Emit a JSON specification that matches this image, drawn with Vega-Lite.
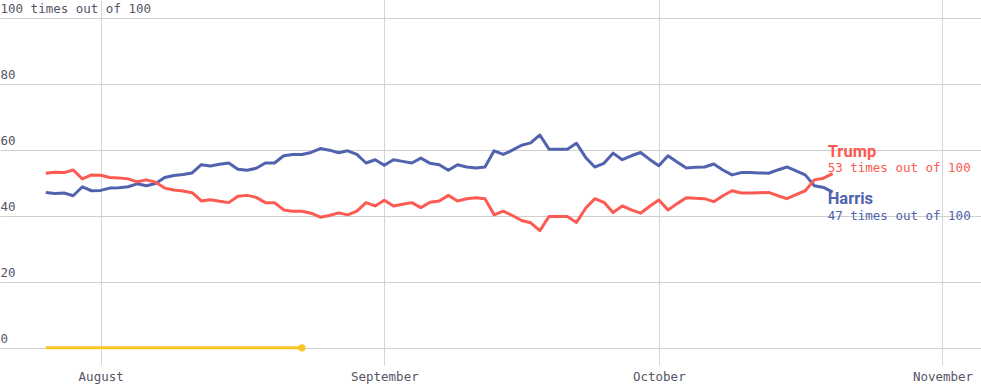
{
  "$schema": "https://vega.github.io/schema/vega-lite/v6.json",
  "width": 981,
  "height": 365,
  "padding": {"left": 0, "top": 0, "right": 0, "bottom": 26},
  "autosize": {"type": "none"},
  "background": "white",
  "config": {"view": {"stroke": null}},
  "datasets": {
    "forecast": [
      {"date":"2024-07-26","candidate":"Kennedy","chance":0},{"date":"2024-07-27","candidate":"Kennedy","chance":0},{"date":"2024-07-28","candidate":"Kennedy","chance":0},{"date":"2024-07-29","candidate":"Kennedy","chance":0},{"date":"2024-07-30","candidate":"Kennedy","chance":0},{"date":"2024-07-31","candidate":"Kennedy","chance":0},{"date":"2024-08-01","candidate":"Kennedy","chance":0},{"date":"2024-08-02","candidate":"Kennedy","chance":0},{"date":"2024-08-03","candidate":"Kennedy","chance":0},{"date":"2024-08-04","candidate":"Kennedy","chance":0},{"date":"2024-08-05","candidate":"Kennedy","chance":0},{"date":"2024-08-06","candidate":"Kennedy","chance":0},{"date":"2024-08-07","candidate":"Kennedy","chance":0},{"date":"2024-08-08","candidate":"Kennedy","chance":0},{"date":"2024-08-09","candidate":"Kennedy","chance":0},{"date":"2024-08-10","candidate":"Kennedy","chance":0},{"date":"2024-08-11","candidate":"Kennedy","chance":0},{"date":"2024-08-12","candidate":"Kennedy","chance":0},{"date":"2024-08-13","candidate":"Kennedy","chance":0},{"date":"2024-08-14","candidate":"Kennedy","chance":0},{"date":"2024-08-15","candidate":"Kennedy","chance":0},{"date":"2024-08-16","candidate":"Kennedy","chance":0},{"date":"2024-08-17","candidate":"Kennedy","chance":0},{"date":"2024-08-18","candidate":"Kennedy","chance":0},{"date":"2024-08-19","candidate":"Kennedy","chance":0},{"date":"2024-08-20","candidate":"Kennedy","chance":0},{"date":"2024-08-21","candidate":"Kennedy","chance":0},{"date":"2024-08-22","candidate":"Kennedy","chance":0},{"date":"2024-08-23","candidate":"Kennedy","chance":0},
      {"date":"2024-07-26","candidate":"Harris","chance":47.1},{"date":"2024-07-27","candidate":"Harris","chance":46.8},{"date":"2024-07-28","candidate":"Harris","chance":46.9},{"date":"2024-07-29","candidate":"Harris","chance":46.1},{"date":"2024-07-30","candidate":"Harris","chance":48.8},{"date":"2024-07-31","candidate":"Harris","chance":47.6},
      {"date":"2024-08-01","candidate":"Harris","chance":47.7},{"date":"2024-08-02","candidate":"Harris","chance":48.4},{"date":"2024-08-03","candidate":"Harris","chance":48.5},{"date":"2024-08-04","candidate":"Harris","chance":48.8},{"date":"2024-08-05","candidate":"Harris","chance":49.7},{"date":"2024-08-06","candidate":"Harris","chance":49.1},{"date":"2024-08-07","candidate":"Harris","chance":49.8},{"date":"2024-08-08","candidate":"Harris","chance":51.6},{"date":"2024-08-09","candidate":"Harris","chance":52.2},{"date":"2024-08-10","candidate":"Harris","chance":52.5},{"date":"2024-08-11","candidate":"Harris","chance":53.0},{"date":"2024-08-12","candidate":"Harris","chance":55.5},{"date":"2024-08-13","candidate":"Harris","chance":55.1},{"date":"2024-08-14","candidate":"Harris","chance":55.6},{"date":"2024-08-15","candidate":"Harris","chance":56.0},{"date":"2024-08-16","candidate":"Harris","chance":54.1},{"date":"2024-08-17","candidate":"Harris","chance":53.8},{"date":"2024-08-18","candidate":"Harris","chance":54.4},{"date":"2024-08-19","candidate":"Harris","chance":56.0},{"date":"2024-08-20","candidate":"Harris","chance":56.0},{"date":"2024-08-21","candidate":"Harris","chance":58.2},{"date":"2024-08-22","candidate":"Harris","chance":58.6},{"date":"2024-08-23","candidate":"Harris","chance":58.6},{"date":"2024-08-24","candidate":"Harris","chance":59.2},{"date":"2024-08-25","candidate":"Harris","chance":60.4},{"date":"2024-08-26","candidate":"Harris","chance":59.9},{"date":"2024-08-27","candidate":"Harris","chance":59.1},{"date":"2024-08-28","candidate":"Harris","chance":59.7},{"date":"2024-08-29","candidate":"Harris","chance":58.6},{"date":"2024-08-30","candidate":"Harris","chance":56.0},{"date":"2024-08-31","candidate":"Harris","chance":57.0},
      {"date":"2024-09-01","candidate":"Harris","chance":55.3},{"date":"2024-09-02","candidate":"Harris","chance":57.0},{"date":"2024-09-03","candidate":"Harris","chance":56.5},{"date":"2024-09-04","candidate":"Harris","chance":56.0},{"date":"2024-09-05","candidate":"Harris","chance":57.5},{"date":"2024-09-06","candidate":"Harris","chance":55.9},{"date":"2024-09-07","candidate":"Harris","chance":55.5},{"date":"2024-09-08","candidate":"Harris","chance":53.8},{"date":"2024-09-09","candidate":"Harris","chance":55.5},{"date":"2024-09-10","candidate":"Harris","chance":54.8},{"date":"2024-09-11","candidate":"Harris","chance":54.5},{"date":"2024-09-12","candidate":"Harris","chance":54.8},{"date":"2024-09-13","candidate":"Harris","chance":59.7},{"date":"2024-09-14","candidate":"Harris","chance":58.6},{"date":"2024-09-15","candidate":"Harris","chance":59.9},{"date":"2024-09-16","candidate":"Harris","chance":61.4},{"date":"2024-09-17","candidate":"Harris","chance":62.1},{"date":"2024-09-18","candidate":"Harris","chance":64.5},{"date":"2024-09-19","candidate":"Harris","chance":60.2},{"date":"2024-09-20","candidate":"Harris","chance":60.2},{"date":"2024-09-21","candidate":"Harris","chance":60.2},{"date":"2024-09-22","candidate":"Harris","chance":62.0},{"date":"2024-09-23","candidate":"Harris","chance":57.7},{"date":"2024-09-24","candidate":"Harris","chance":54.8},{"date":"2024-09-25","candidate":"Harris","chance":55.9},{"date":"2024-09-26","candidate":"Harris","chance":59.0},{"date":"2024-09-27","candidate":"Harris","chance":57.0},{"date":"2024-09-28","candidate":"Harris","chance":58.2},{"date":"2024-09-29","candidate":"Harris","chance":59.2},{"date":"2024-09-30","candidate":"Harris","chance":57.1},
      {"date":"2024-10-01","candidate":"Harris","chance":55.2},{"date":"2024-10-02","candidate":"Harris","chance":58.2},{"date":"2024-10-03","candidate":"Harris","chance":56.3},{"date":"2024-10-04","candidate":"Harris","chance":54.5},{"date":"2024-10-05","candidate":"Harris","chance":54.7},{"date":"2024-10-06","candidate":"Harris","chance":54.8},{"date":"2024-10-07","candidate":"Harris","chance":55.7},{"date":"2024-10-08","candidate":"Harris","chance":53.9},{"date":"2024-10-09","candidate":"Harris","chance":52.4},{"date":"2024-10-10","candidate":"Harris","chance":53.1},{"date":"2024-10-11","candidate":"Harris","chance":53.1},{"date":"2024-10-12","candidate":"Harris","chance":53.0},{"date":"2024-10-13","candidate":"Harris","chance":52.9},{"date":"2024-10-14","candidate":"Harris","chance":53.9},{"date":"2024-10-15","candidate":"Harris","chance":54.8},{"date":"2024-10-16","candidate":"Harris","chance":53.6},{"date":"2024-10-17","candidate":"Harris","chance":52.4},{"date":"2024-10-18","candidate":"Harris","chance":49.1},{"date":"2024-10-19","candidate":"Harris","chance":48.6},{"date":"2024-10-20","candidate":"Harris","chance":47.2},
      {"date":"2024-07-26","candidate":"Trump","chance":52.9},{"date":"2024-07-27","candidate":"Trump","chance":53.2},{"date":"2024-07-28","candidate":"Trump","chance":53.1},{"date":"2024-07-29","candidate":"Trump","chance":53.9},{"date":"2024-07-30","candidate":"Trump","chance":51.2},{"date":"2024-07-31","candidate":"Trump","chance":52.4},
      {"date":"2024-08-01","candidate":"Trump","chance":52.3},{"date":"2024-08-02","candidate":"Trump","chance":51.6},{"date":"2024-08-03","candidate":"Trump","chance":51.5},{"date":"2024-08-04","candidate":"Trump","chance":51.2},{"date":"2024-08-05","candidate":"Trump","chance":50.3},{"date":"2024-08-06","candidate":"Trump","chance":50.9},{"date":"2024-08-07","candidate":"Trump","chance":50.2},{"date":"2024-08-08","candidate":"Trump","chance":48.4},{"date":"2024-08-09","candidate":"Trump","chance":47.8},{"date":"2024-08-10","candidate":"Trump","chance":47.5},{"date":"2024-08-11","candidate":"Trump","chance":47.0},{"date":"2024-08-12","candidate":"Trump","chance":44.5},{"date":"2024-08-13","candidate":"Trump","chance":44.9},{"date":"2024-08-14","candidate":"Trump","chance":44.4},{"date":"2024-08-15","candidate":"Trump","chance":44.0},{"date":"2024-08-16","candidate":"Trump","chance":45.9},{"date":"2024-08-17","candidate":"Trump","chance":46.2},{"date":"2024-08-18","candidate":"Trump","chance":45.6},{"date":"2024-08-19","candidate":"Trump","chance":44.0},{"date":"2024-08-20","candidate":"Trump","chance":44.0},{"date":"2024-08-21","candidate":"Trump","chance":41.8},{"date":"2024-08-22","candidate":"Trump","chance":41.4},{"date":"2024-08-23","candidate":"Trump","chance":41.4},{"date":"2024-08-24","candidate":"Trump","chance":40.8},{"date":"2024-08-25","candidate":"Trump","chance":39.6},{"date":"2024-08-26","candidate":"Trump","chance":40.1},{"date":"2024-08-27","candidate":"Trump","chance":40.9},{"date":"2024-08-28","candidate":"Trump","chance":40.3},{"date":"2024-08-29","candidate":"Trump","chance":41.4},{"date":"2024-08-30","candidate":"Trump","chance":44.0},{"date":"2024-08-31","candidate":"Trump","chance":43.0},
      {"date":"2024-09-01","candidate":"Trump","chance":44.7},{"date":"2024-09-02","candidate":"Trump","chance":43.0},{"date":"2024-09-03","candidate":"Trump","chance":43.5},{"date":"2024-09-04","candidate":"Trump","chance":44.0},{"date":"2024-09-05","candidate":"Trump","chance":42.5},{"date":"2024-09-06","candidate":"Trump","chance":44.1},{"date":"2024-09-07","candidate":"Trump","chance":44.5},{"date":"2024-09-08","candidate":"Trump","chance":46.2},{"date":"2024-09-09","candidate":"Trump","chance":44.5},{"date":"2024-09-10","candidate":"Trump","chance":45.2},{"date":"2024-09-11","candidate":"Trump","chance":45.5},{"date":"2024-09-12","candidate":"Trump","chance":45.2},{"date":"2024-09-13","candidate":"Trump","chance":40.3},{"date":"2024-09-14","candidate":"Trump","chance":41.4},{"date":"2024-09-15","candidate":"Trump","chance":40.1},{"date":"2024-09-16","candidate":"Trump","chance":38.6},{"date":"2024-09-17","candidate":"Trump","chance":37.9},{"date":"2024-09-18","candidate":"Trump","chance":35.5},{"date":"2024-09-19","candidate":"Trump","chance":39.8},{"date":"2024-09-20","candidate":"Trump","chance":39.8},{"date":"2024-09-21","candidate":"Trump","chance":39.8},{"date":"2024-09-22","candidate":"Trump","chance":38.0},{"date":"2024-09-23","candidate":"Trump","chance":42.3},{"date":"2024-09-24","candidate":"Trump","chance":45.2},{"date":"2024-09-25","candidate":"Trump","chance":44.1},{"date":"2024-09-26","candidate":"Trump","chance":41.0},{"date":"2024-09-27","candidate":"Trump","chance":43.0},{"date":"2024-09-28","candidate":"Trump","chance":41.8},{"date":"2024-09-29","candidate":"Trump","chance":40.8},{"date":"2024-09-30","candidate":"Trump","chance":42.9},
      {"date":"2024-10-01","candidate":"Trump","chance":44.8},{"date":"2024-10-02","candidate":"Trump","chance":41.8},{"date":"2024-10-03","candidate":"Trump","chance":43.7},{"date":"2024-10-04","candidate":"Trump","chance":45.5},{"date":"2024-10-05","candidate":"Trump","chance":45.3},{"date":"2024-10-06","candidate":"Trump","chance":45.2},{"date":"2024-10-07","candidate":"Trump","chance":44.3},{"date":"2024-10-08","candidate":"Trump","chance":46.1},{"date":"2024-10-09","candidate":"Trump","chance":47.6},{"date":"2024-10-10","candidate":"Trump","chance":46.9},{"date":"2024-10-11","candidate":"Trump","chance":46.9},{"date":"2024-10-12","candidate":"Trump","chance":47.0},{"date":"2024-10-13","candidate":"Trump","chance":47.1},{"date":"2024-10-14","candidate":"Trump","chance":46.1},{"date":"2024-10-15","candidate":"Trump","chance":45.2},{"date":"2024-10-16","candidate":"Trump","chance":46.4},{"date":"2024-10-17","candidate":"Trump","chance":47.6},{"date":"2024-10-18","candidate":"Trump","chance":50.9},{"date":"2024-10-19","candidate":"Trump","chance":51.4},{"date":"2024-10-20","candidate":"Trump","chance":52.8}
    ],
    "labels": [
      {"candidate":"Trump","date":"2024-10-20","chance":52.8,"odds":"53 times out of 100"},
      {"candidate":"Harris","date":"2024-10-20","chance":47.2,"odds":"47 times out of 100"}
    ]
  },
  "data": {"name": "forecast"},
  "encoding": {
    "x": {
      "field": "date", "type": "temporal",
      "scale": {"type": "utc", "domain": [{"year": 2024, "month": 7, "date": 21, "utc": true}, {"year": 2024, "month": 11, "date": 5, "hours": 5, "utc": true}]},
      "axis": {"title": null, "grid": true, "gridColor": "#d6d6d6", "gridWidth": 1, "ticks": false, "tickSize": 0, "domain": false, "labelPadding": 5, "labelFont": "DejaVu Sans Mono", "labelFontSize": 12.5, "labelColor": "#555566", "format": "%B", "formatType": "utc", "tickCount": {"interval": "month", "step": 1}, "labelFlush": false, "labelOverlap": false}
    },
    "y": {
      "field": "chance", "type": "quantitative",
      "scale": {"domain": [-5.2, 105.4], "nice": false, "zero": false},
      "axis": {"title": null, "values": [0, 20, 40, 60, 80, 100], "grid": true, "gridColor": "#cfcfcf", "gridWidth": 1, "ticks": false, "tickSize": 0, "domain": false, "labelAlign": "left", "labelPadding": 0, "labelBaseline": "alphabetic", "labelOffset": -5, "labelFont": "DejaVu Sans Mono", "labelFontSize": 12.5, "labelColor": "#555566", "labelOverlap": false, "labelExpr": "datum.value == 100 ? '100 times out of 100' : (datum.value < 10 ? '\u00a0\u00a0' : '\u00a0') + datum.label"}
    },
    "color": {"field": "candidate", "type": "nominal", "scale": {"domain": ["Trump", "Harris", "Kennedy"], "range": ["#fd5a51", "#5163ae", "#f9c623"]}, "legend": null}
  },
  "layer": [
    {"mark": {"type": "line", "strokeWidth": 3, "strokeJoin": "round"}},
    {"transform": [{"filter": "datum.candidate == 'Kennedy' && time(datum.date) == utc(2024, 7, 23)"}],
     "mark": {"type": "point", "filled": true, "size": 55, "opacity": 1}},
    {"data": {"name": "labels"}, "transform": [{"filter": "datum.candidate == 'Trump'"}],
     "mark": {"type": "text", "align": "left", "baseline": "alphabetic", "dx": -5, "dy": -17, "font": "Roboto", "fontWeight": "bold", "fontSize": 16.5},
     "encoding": {"text": {"field": "candidate"}}},
    {"data": {"name": "labels"}, "transform": [{"filter": "datum.candidate == 'Trump'"}],
     "mark": {"type": "text", "align": "left", "baseline": "alphabetic", "dx": -5, "dy": -2, "font": "DejaVu Sans Mono", "fontSize": 12.5},
     "encoding": {"text": {"field": "odds"}}},
    {"data": {"name": "labels"}, "transform": [{"filter": "datum.candidate == 'Harris'"}],
     "mark": {"type": "text", "align": "left", "baseline": "alphabetic", "dx": -5, "dy": 12, "font": "Roboto", "fontWeight": "bold", "fontSize": 16.5},
     "encoding": {"text": {"field": "candidate"}}},
    {"data": {"name": "labels"}, "transform": [{"filter": "datum.candidate == 'Harris'"}],
     "mark": {"type": "text", "align": "left", "baseline": "alphabetic", "dx": -5, "dy": 28, "font": "DejaVu Sans Mono", "fontSize": 12.5},
     "encoding": {"text": {"field": "odds"}}}
  ]
}
